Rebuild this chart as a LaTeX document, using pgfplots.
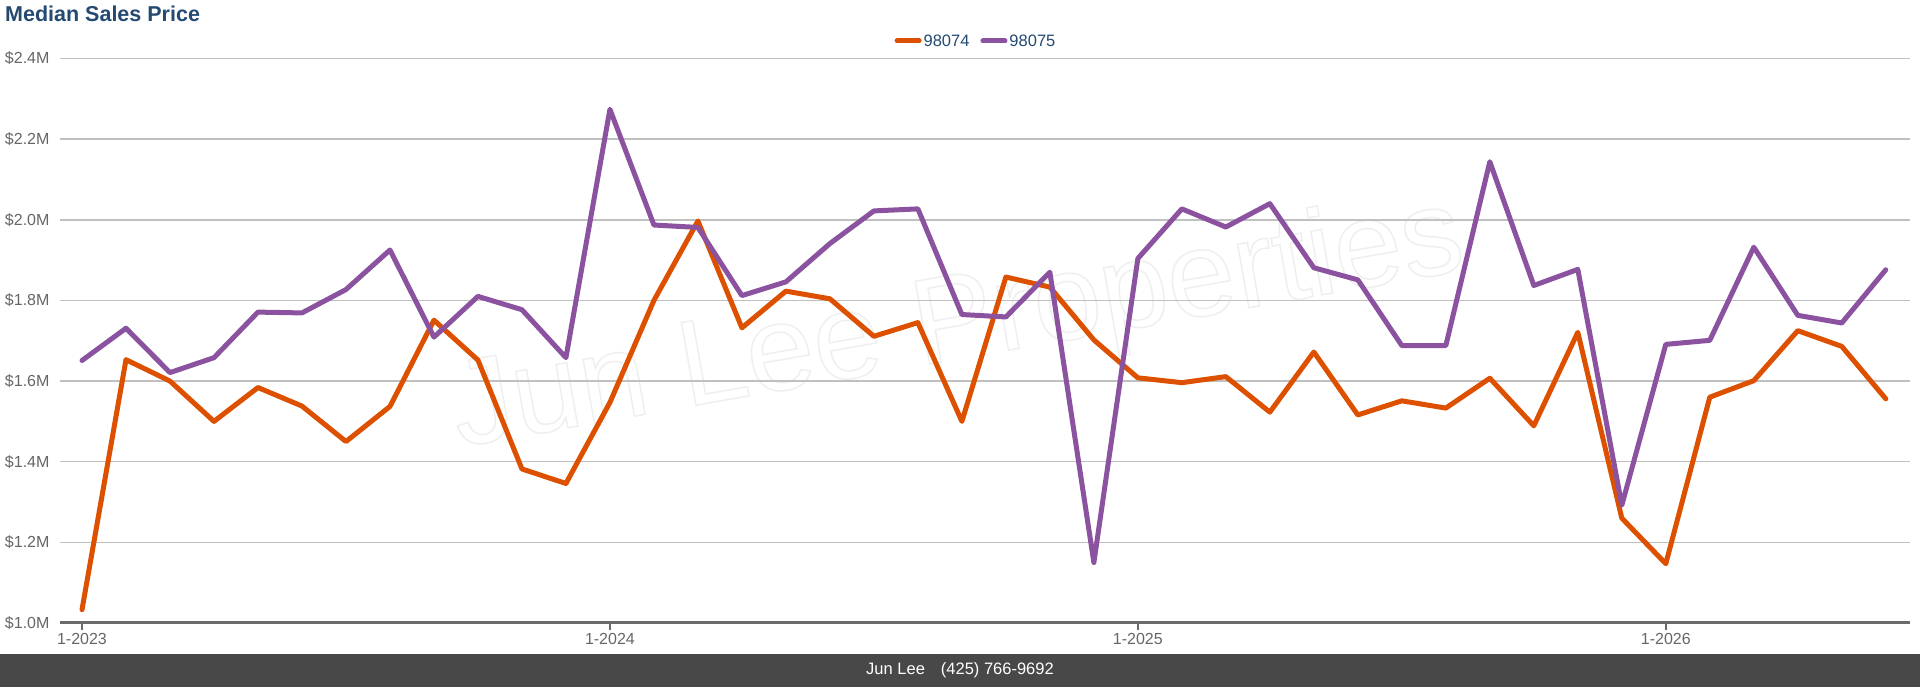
\documentclass[border=0pt]{standalone}
\usepackage{pgfplots}
\pgfplotsset{compat=1.18}
\usepackage{fontspec}
\setmainfont{Liberation Sans}
\definecolor{orn}{HTML}{DD5000}
\definecolor{pur}{HTML}{8B52A0}
\definecolor{titlec}{HTML}{244A72}
\definecolor{tickc}{HTML}{666666}
\definecolor{gridc}{HTML}{C0C0C0}
\definecolor{axisc}{HTML}{6A6A6A}
\definecolor{footc}{HTML}{484848}
\definecolor{wmc}{HTML}{EFEFEF}
\pgfplotstableread{
i v
0 1.033
1 1.653
2 1.600
3 1.500
4 1.584
5 1.538
6 1.450
7 1.537
8 1.751
9 1.652
10 1.382
11 1.346
12 1.547
13 1.800
14 1.997
15 1.732
16 1.823
17 1.804
18 1.711
19 1.745
20 1.500
21 1.858
22 1.833
23 1.702
24 1.608
25 1.596
26 1.611
27 1.523
28 1.672
29 1.516
30 1.551
31 1.533
32 1.607
33 1.489
34 1.721
35 1.260
36 1.147
37 1.560
38 1.601
39 1.725
40 1.686
41 1.556
}\tA
\pgfplotstableread{
i v
0 1.651
1 1.731
2 1.621
3 1.658
4 1.771
5 1.769
6 1.827
7 1.925
8 1.709
9 1.810
10 1.777
11 1.658
12 2.274
13 1.987
14 1.981
15 1.812
16 1.846
17 1.941
18 2.022
19 2.027
20 1.765
21 1.759
22 1.870
23 1.150
24 1.904
25 2.027
26 1.982
27 2.040
28 1.881
29 1.851
30 1.688
31 1.688
32 2.144
33 1.837
34 1.877
35 1.292
36 1.691
37 1.701
38 1.932
39 1.763
40 1.744
41 1.876
}\tB
\begin{document}
\begin{tikzpicture}[x=1pt,y=1pt]
\fill[white] (0,0) rectangle (1920,687);
\fill[footc] (0,0) rectangle (1920,33);
\node[anchor=base, text=white, inner sep=0, font=\fontsize{16.5}{18}\selectfont] at (960,12) {Jun Lee\hspace{16pt}(425) 766-9692};
\node[anchor=base west, inner sep=0, text=titlec, font=\bfseries\fontsize{21.5}{24}\selectfont] at (5,665.3) {Median Sales Price};
\node[rotate=10, text=wmc, inner sep=0, font=\fontsize{122}{122}\selectfont] at (958,360) {\special{pdf:code 1 Tr 1.5 w}Jun Lee Properties\special{pdf:code 0 Tr}};
\begin{scope}[shift={(60pt,64pt)}]
\begin{axis}[
  anchor=south west,
  scale only axis, width=1850pt, height=564.5pt,
  xmin=-0.5, xmax=41.55, ymin=1.0, ymax=2.4,
  axis x line*=bottom, axis y line*=left,
  x axis line style={draw=axisc, line width=3pt},
  y axis line style={draw=none},
  ytick={1.0,1.2,1.4,1.6,1.8,2.0,2.2,2.4},
  yticklabels={\$1.0M,\$1.2M,\$1.4M,\$1.6M,\$1.8M,\$2.0M,\$2.2M,\$2.4M},
  xtick={0,12,24,36},
  xticklabels={1-2023,1-2024,1-2025,1-2026},
  tick align=outside, major tick length=7pt,
  ytick style={draw=none},
  xtick style={draw=axisc, line width=2.5pt},
  ymajorgrids, grid style={draw=gridc, line width=1.5pt},
  ticklabel style={font=\fontsize{16}{18}\selectfont, text=tickc},
  legend style={at={(0.5,1)}, anchor=center, yshift=17.5pt, xshift=-9pt, draw=none, fill=none,
    legend columns=2, font=\fontsize{16.5}{18}\selectfont, text=titlec,
    /tikz/every even column/.append style={column sep=9pt}},
  legend image code/.code={\draw[#1, line width=5pt] (0pt,0pt) -- (22pt,0pt);},
  clip=false,
]
\addplot[orn, line width=5pt, line join=round, line cap=round] table[x=i,y=v]{\tA};
\addlegendentry{98074}
\addplot[pur, line width=5pt, line join=round, line cap=round] table[x=i,y=v]{\tB};
\addlegendentry{98075}
\end{axis}
\end{scope}
\end{tikzpicture}
\end{document}
